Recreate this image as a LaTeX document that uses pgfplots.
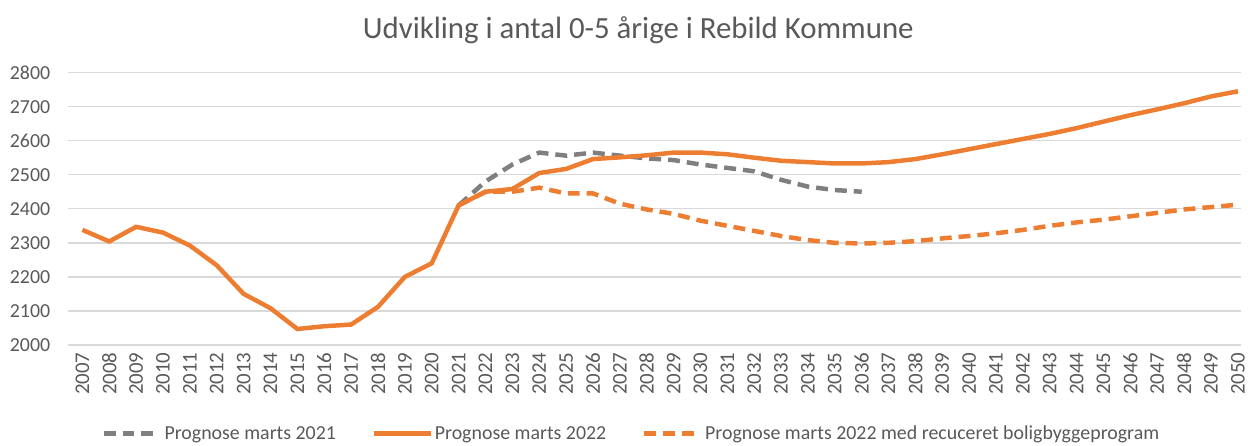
\documentclass[border=0pt]{standalone}
\usepackage{pgfplots}
\pgfplotsset{compat=1.18}
\usepackage{fontspec}
\setmainfont{Carlito}
\definecolor{xlorange}{HTML}{ED7D31}
\definecolor{xlgray}{HTML}{7F7F7F}
\definecolor{txtgray}{HTML}{595959}
\definecolor{gridgray}{HTML}{D9D9D9}
\begin{document}
\begin{tikzpicture}
\begin{axis}[
  scale only axis,
  width=1180pt, height=274pt,
  xmin=2006.45, xmax=2050.1,
  ymin=2000, ymax=2800,
  axis line style={draw=none},
  tick style={draw=none},
  ymajorgrids, grid style={gridgray, line width=1.4pt},
  ytick={2000,2100,...,2800},
  xtick={2007,...,2050},
  /pgf/number format/assume math mode=true,
  /pgf/number format/1000 sep={},
  yticklabel style={font=\fontsize{20}{22}\selectfont, text=txtgray, xshift=-14pt},
  xticklabel style={font=\fontsize{21}{23}\selectfont, text=txtgray, rotate=90, anchor=east, xshift=-4pt},
  legend columns=3,
  legend style={draw=none, fill=none, at={(rel axis cs:0.4805,-0.325)}, anchor=center,
    font=\fontsize{20}{22}\selectfont, text=txtgray,
    /tikz/every even column/.append style={column sep=34pt}},
  legend image code/.code={\draw[#1] (0pt,0pt) -- (57pt,0pt);},
  clip=false,
]
\addplot[xlgray, line width=4.5pt, dash pattern=on 12pt off 7pt] coordinates {
(2021,2410) (2022,2480) (2023,2530) (2024,2565) (2025,2556) (2026,2565) (2027,2556)
(2028,2548) (2029,2543) (2030,2530) (2031,2520) (2032,2510) (2033,2485) (2034,2465)
(2035,2455) (2036,2450)};
\addlegendentry{Prognose marts 2021}
\addplot[xlorange, line width=4.5pt] coordinates {
(2007,2338) (2008,2304) (2009,2347) (2010,2330) (2011,2292) (2012,2234) (2013,2150)
(2014,2108) (2015,2047) (2016,2055) (2017,2060) (2018,2112) (2019,2200) (2020,2240)
(2021,2410) (2022,2450) (2023,2458) (2024,2505) (2025,2517) (2026,2546) (2027,2551)
(2028,2557) (2029,2565) (2030,2565) (2031,2560) (2032,2550) (2033,2541) (2034,2537)
(2035,2533) (2036,2533) (2037,2537) (2038,2546) (2039,2560) (2040,2575) (2041,2590)
(2042,2605) (2043,2620) (2044,2637) (2045,2656) (2046,2675) (2047,2692) (2048,2710)
(2049,2730) (2050,2745)};
\addlegendentry{Prognose marts 2022}
\addplot[xlorange, line width=4.5pt, dash pattern=on 12pt off 7pt] coordinates {
(2021,2410) (2022,2450) (2023,2450) (2024,2462) (2025,2445) (2026,2445) (2027,2415)
(2028,2398) (2029,2385) (2030,2365) (2031,2350) (2032,2335) (2033,2320) (2034,2308)
(2035,2300) (2036,2298) (2037,2300) (2038,2305) (2039,2313) (2040,2320) (2041,2328)
(2042,2338) (2043,2350) (2044,2360) (2045,2368) (2046,2378) (2047,2388) (2048,2398)
(2049,2405) (2050,2412)};
\addlegendentry{Prognose marts 2022 med recuceret boligbyggeprogram}
\end{axis}
\node[font=\fontsize{31}{34}\selectfont, text=txtgray] at (574pt,317pt) {Udvikling i antal 0-5 årige i Rebild Kommune};
\useasboundingbox (-68pt,-94pt) rectangle (1180pt,347pt);
\end{tikzpicture}
\end{document}
